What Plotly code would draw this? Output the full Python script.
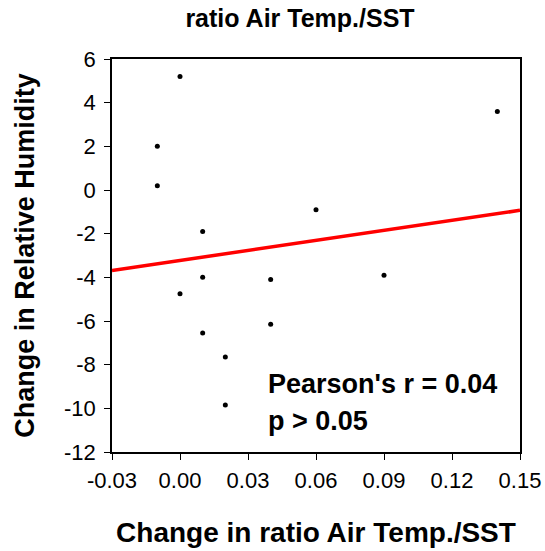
import numpy as np
import plotly.graph_objects as go

# Data
change_ratio = [0.00, -0.01, -0.01, 0.01, 0.06, 0.14, 0.01, 0.00, 0.04, 0.01, 0.04, 0.02, 0.02, 0.09]
change_rh = [5.2, 2.0, 0.2, -1.9, -0.9, 3.6, -4.0, -4.75, -4.1, -6.55, -6.15, -7.65, -9.85, -3.9]

x_ticks = [-0.03, 0.00, 0.03, 0.06, 0.09, 0.12, 0.15]
x_tick_text = ["-0.03", "0.00", "0.03", "0.06", "0.09", "0.12", "0.15"]
y_ticks = [-12, -10, -8, -6, -4, -2, 0, 2, 4, 6]
y_tick_text = ["-12", "-10", "-8", "-6", "-4", "-2", "0", "2", "4", "6"]

# Least-squares fit line across the x range
slope, intercept = np.polyfit(change_ratio, change_rh, 1)
fit_x = [x_ticks[0], x_ticks[-1]]
fit_y = [intercept + slope * v for v in fit_x]

FONT = "Liberation Sans, Arial, sans-serif"

fig = go.Figure()
fig.add_trace(go.Scatter(x=fit_x, y=fit_y, mode="lines",
                         line=dict(color="#ff0000", width=3.5), hoverinfo="skip"))
fig.add_trace(go.Scatter(x=change_ratio, y=change_rh, mode="markers",
                         marker=dict(color="black", size=5)))

fig.add_annotation(x=0.038, y=-8.9, xref="x", yref="y", text="<b>Pearson's r = 0.04</b>",
                   showarrow=False, xanchor="left", yanchor="middle",
                   font=dict(family=FONT, size=27, color="black"))
fig.add_annotation(x=0.038, y=-10.6, xref="x", yref="y", text="<b>p > 0.05</b>",
                   showarrow=False, xanchor="left", yanchor="middle",
                   font=dict(family=FONT, size=27, color="black"))

fig.update_layout(
    width=545, height=551,
    margin=dict(l=112, r=25, t=59, b=99),
    paper_bgcolor="white", plot_bgcolor="white",
    showlegend=False,
    font=dict(family=FONT, color="black"),
    title=dict(text="<b>ratio Air Temp./SST</b>", x=300/545, xanchor="center",
               y=1 - 18/551, yanchor="middle", automargin=False,
               font=dict(family=FONT, size=25, color="black")),
    xaxis=dict(range=[x_ticks[0], x_ticks[-1]], tickvals=x_ticks, ticktext=x_tick_text,
               ticks="outside", ticklen=6, tickwidth=1, tickcolor="black",
               showline=True, linecolor="black", linewidth=1.5, mirror=True,
               showgrid=False, zeroline=False, automargin=False,
               ticklabelstandoff=2,
               tickfont=dict(family=FONT, size=22, color="black"),
               title=dict(text="<b>Change in ratio Air Temp./SST</b>", standoff=30,
                          font=dict(family=FONT, size=28, color="black"))),
    yaxis=dict(range=[y_ticks[0], y_ticks[-1]], tickvals=y_ticks, ticktext=y_tick_text,
               ticks="outside", ticklen=6, tickwidth=1, tickcolor="black",
               showline=True, linecolor="black", linewidth=1.5, mirror=True,
               showgrid=False, zeroline=False, automargin=False,
               ticklabelstandoff=4,
               tickfont=dict(family=FONT, size=22, color="black"),
               title=dict(text="<b>Change in Relative Humidity</b>", standoff=22,
                          font=dict(family=FONT, size=27, color="black"))),
)

fig.write_html("out.html", config={"displayModeBar": False},
               post_script="document.body.style.margin='0';")
